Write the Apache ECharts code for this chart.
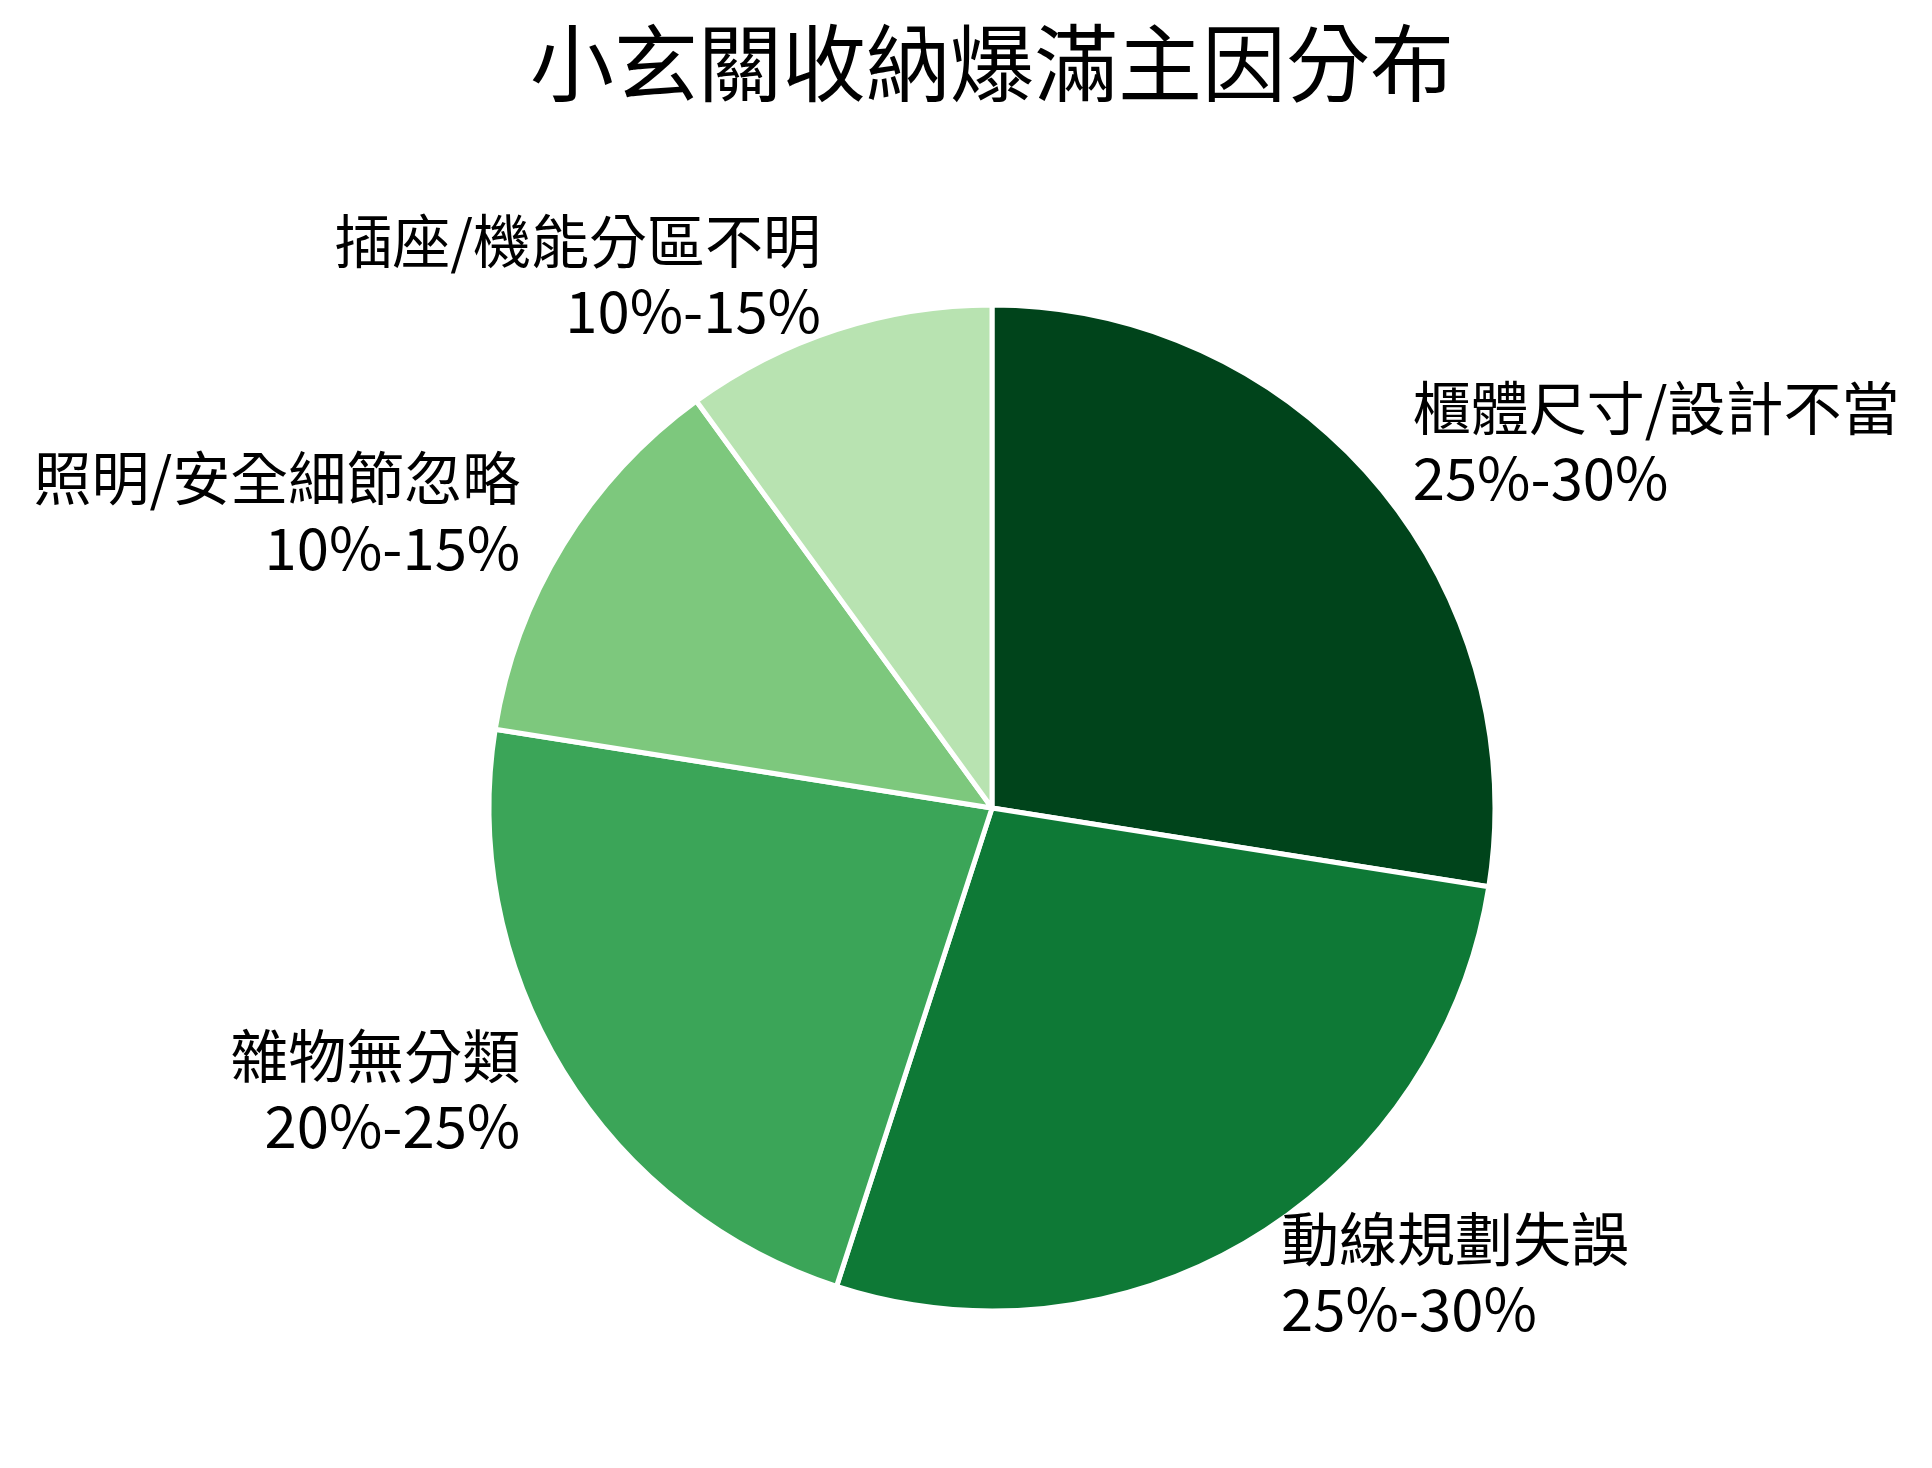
<!DOCTYPE html>
<html>
<head>
<meta charset="utf-8">
<script src="https://cdn.jsdelivr.net/npm/echarts@6/dist/echarts.min.js"></script>
<style>
html,body{margin:0;padding:0;background:#fff;}
#chart{width:1932px;height:1468px;}
</style>
</head>
<body>
<div id="chart"></div>
<script>
const titleText = '小玄關收納爆滿主因分布';
const categories = ['櫃體尺寸/設計不當', '動線規劃失誤', '雜物無分類', '照明/安全細節忽略', '插座/機能分區不明'];
const rangeLabels = ['25%-30%', '25%-30%', '20%-25%', '10%-15%', '10%-15%'];
const values = [27.5, 27.5, 22.5, 12.5, 10];
const colors = ['#00441b', '#0e7936', '#3ba558', '#7dc87d', '#b8e3b1'];

const FONT = '"Noto Sans CJK TC", "Noto Sans CJK SC", sans-serif';
const R = 503;

const chart = echarts.init(document.getElementById('chart'), null, {renderer: 'canvas'});
chart.setOption({
  backgroundColor: '#ffffff',
  animation: false,
  graphic: [{
    type: 'text',
    x: 992,
    y: 63,
    style: {
      text: titleText,
      fontFamily: FONT,
      fontSize: 84,
      fill: '#000',
      align: 'center',
      verticalAlign: 'middle'
    }
  }],
  series: [{
    type: 'pie',
    center: [992, 808],
    radius: [0, R],
    startAngle: 90,
    clockwise: true,
    avoidLabelOverlap: false,
    data: categories.map((c, i) => ({
      name: c,
      value: values[i],
      range: rangeLabels[i],
      itemStyle: {color: colors[i]}
    })),
    itemStyle: {borderColor: '#ffffff', borderWidth: 5},
    label: {
      show: true,
      position: 'outside',
      distanceToLabelLine: 0,
      formatter: p => p.name + '\n' + p.data.range,
      fontFamily: FONT,
      fontSize: 58,
      lineHeight: 70,
      color: '#000'
    },
    labelLayout: {dy: -6},
    labelLine: {show: false, length: R * 0.1, length2: 0},
    emphasis: {disabled: true}
  }]
});
</script>
</body>
</html>
